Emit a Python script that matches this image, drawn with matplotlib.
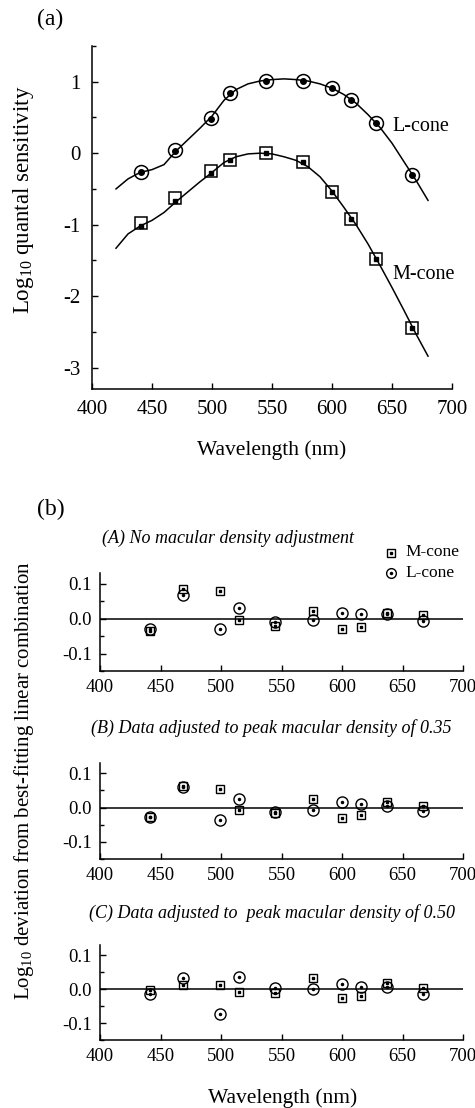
import matplotlib
matplotlib.use("Agg")
import matplotlib.pyplot as plt
from matplotlib.lines import Line2D
from matplotlib.ticker import MultipleLocator

plt.rcParams['font.family'] = ['Liberation Serif', 'DejaVu Serif']
plt.rcParams['mathtext.fontset'] = 'custom'
plt.rcParams['mathtext.rm'] = 'Liberation Serif'
plt.rcParams['axes.unicode_minus'] = False

# Test wavelengths (nm)
wavelengths = [441, 469, 499, 515, 545, 576, 600, 616, 637, 667]

# Panel (a): log10 quantal sensitivities
l_cone_sens = [-0.26, 0.04, 0.49, 0.84, 1.01, 1.01, 0.91, 0.75, 0.42, -0.31]
m_cone_sens = [-0.98, -0.63, -0.25, -0.10, 0.00, -0.12, -0.54, -0.92, -1.48, -2.44]
l_cone_fitpts = [-0.26, 0.03, 0.48, 0.84, 1.01, 1.01, 0.91, 0.75, 0.42, -0.31]
m_cone_fitpts = [-1.02, -0.67, -0.28, -0.10, 0.00, -0.12, -0.54, -0.92, -1.48, -2.44]

# Best-fitting template curves
curve_wl = [420, 430, 440, 450, 460, 470, 480, 490, 500, 510, 520, 530, 540,
            550, 560, 570, 580, 590, 600, 610, 620, 630, 640, 650, 660, 670, 680]
l_cone_curve = [-0.50, -0.36, -0.27, -0.23, -0.16, 0.03, 0.19, 0.35, 0.52,
                0.74, 0.89, 0.97, 1.01, 1.03, 1.04, 1.03, 1.01, 0.97, 0.91,
                0.82, 0.70, 0.54, 0.36, 0.14, -0.12, -0.38, -0.66]
m_cone_curve = [-1.33, -1.13, -1.02, -0.94, -0.83, -0.68, -0.54, -0.40, -0.27,
                -0.13, -0.05, -0.01, 0.00, -0.01, -0.05, -0.10, -0.19, -0.33,
                -0.53, -0.76, -1.00, -1.27, -1.57, -1.88, -2.20, -2.53, -2.84]

# Panel (b): residuals from the best-fitting linear combination
resid_titles = ["(A) No macular density adjustment",
                "(B) Data adjusted to peak macular density of 0.35",
                "(C) Data adjusted to  peak macular density of 0.50"]
resid_m = [
    [-0.037, 0.085, 0.079, -0.003, -0.020, 0.022, -0.031, -0.023, 0.017, 0.010],
    [-0.027, 0.063, 0.054, -0.007, -0.016, 0.025, -0.030, -0.023, 0.017, 0.005],
    [-0.003, 0.013, 0.012, -0.008, -0.010, 0.033, -0.025, -0.020, 0.017, 0.002],
]
resid_l = [
    [-0.029, 0.067, -0.029, 0.029, -0.010, -0.004, 0.017, 0.013, 0.012, -0.006],
    [-0.027, 0.061, -0.035, 0.026, -0.013, -0.006, 0.015, 0.011, 0.006, -0.010],
    [-0.013, 0.032, -0.073, 0.035, 0.003, 0.000, 0.015, 0.007, 0.005, -0.013],
]

W, H = 475, 1108
fig = plt.figure(figsize=(W / 100, H / 100), dpi=100)


def fx(x):
    return x / W


def fy(y):
    return 1 - y / H


def px_axes(left, top, right, bottom):
    return fig.add_axes([left / W, 1 - bottom / H, (right - left) / W, (bottom - top) / H])


def style_axes(ax, tick_size):
    for s in ("top", "right"):
        ax.spines[s].set_visible(False)
    for s in ("left", "bottom"):
        ax.spines[s].set_linewidth(1.1)
    ax.tick_params(which="both", direction="in", width=1.0, labelsize=tick_size)
    ax.tick_params(which="major", length=4)
    ax.tick_params(which="minor", length=3)


# ---- Panel (a) ----
ax = px_axes(92, 46, 452, 389)
style_axes(ax, 15)
ax.set_xlim(400, 700)
ax.set_ylim(-3.3, 1.5)
ax.xaxis.set_major_locator(MultipleLocator(50))
ax.yaxis.set_major_locator(MultipleLocator(1))
ax.yaxis.set_minor_locator(MultipleLocator(0.5))
ax.tick_params(axis="x", pad=8)
ax.tick_params(axis="y", pad=8)

ax.plot(curve_wl, l_cone_curve, color="black", lw=1.1)
ax.plot(curve_wl, m_cone_curve, color="black", lw=1.1)
ax.plot(wavelengths, l_cone_sens, "o", ms=10, mfc="none", mec="black", mew=1.1)
ax.plot(wavelengths, m_cone_sens, "s", ms=8.5, mfc="none", mec="black", mew=1.1)
ax.plot(wavelengths, l_cone_fitpts, "o", ms=4, color="black")
ax.plot(wavelengths, m_cone_fitpts, "s", ms=3.5, color="black")
ax.text(650, 0.37, "L-cone", fontsize=14.5, va="center", ha="left")
ax.text(650, -1.70, "M-cone", fontsize=14.5, va="center", ha="left")
fig.text(fx(24), fy(200), r"Log$_{10}$ quantal sensitivity", fontsize=16.5,
         rotation=90, va="center", ha="center")
fig.text(fx(272), fy(450), "Wavelength (nm)", fontsize=15.5, va="center", ha="center")
fig.text(fx(37), fy(19), "(a)", fontsize=17, va="center", ha="left")

# ---- Panel (b) ----
fig.text(fx(37), fy(509), "(b)", fontsize=17, va="center", ha="left")
resid_boxes = [(573, 671), (763, 859), (945, 1040)]
title_pos = [(228, 538), (271, 728), (272, 913)]
for i, (top, bottom) in enumerate(resid_boxes):
    rax = px_axes(100, top, 463, bottom)
    style_axes(rax, 13.5)
    rax.set_xlim(400, 700)
    rax.set_ylim(-0.15, 0.13)
    rax.xaxis.set_major_locator(MultipleLocator(50))
    rax.set_yticks([-0.1, 0.0, 0.1])
    rax.set_yticklabels(["-0.1", "0.0", "0.1"])
    rax.yaxis.set_minor_locator(MultipleLocator(0.05))
    rax.tick_params(axis="x", pad=6)
    rax.tick_params(axis="y", pad=6)
    rax.axhline(0, color="black", lw=1.1)
    rax.plot(wavelengths, resid_m[i], "s", ms=6, mfc="none", mec="black", mew=1.0)
    rax.plot(wavelengths, resid_l[i], "o", ms=8, mfc="none", mec="black", mew=1.0)
    rax.plot(wavelengths, resid_m[i], "s", ms=1.5, color="black")
    rax.plot(wavelengths, resid_l[i], "o", ms=1.5, color="black")
    tx, ty = title_pos[i]
    fig.text(fx(tx), fy(ty), resid_titles[i], fontsize=13, style="italic",
             va="center", ha="center")

# Legend for the residual panels
for ypix, mk, size in [(553, "s", 6), (573, "o", 7)]:
    fig.add_artist(Line2D([fx(391)], [fy(ypix)], marker=mk, ms=size, mfc="none",
                          mec="black", mew=1.0, transform=fig.transFigure))
    fig.add_artist(Line2D([fx(391)], [fy(ypix)], marker=mk, ms=1.5, color="black",
                          transform=fig.transFigure))
fig.text(fx(405), fy(552), "M-cone", fontsize=12.5, va="center", ha="left")
fig.text(fx(405), fy(573), "L-cone", fontsize=12.5, va="center", ha="left")

fig.text(fx(283), fy(1098), "Wavelength (nm)", fontsize=15.5, va="center", ha="center")
fig.text(fx(24), fy(781), r"Log$_{10}$ deviation from best-fitting linear combination",
         fontsize=15, rotation=90, va="center", ha="center")

fig.savefig("out.png", dpi=100)
